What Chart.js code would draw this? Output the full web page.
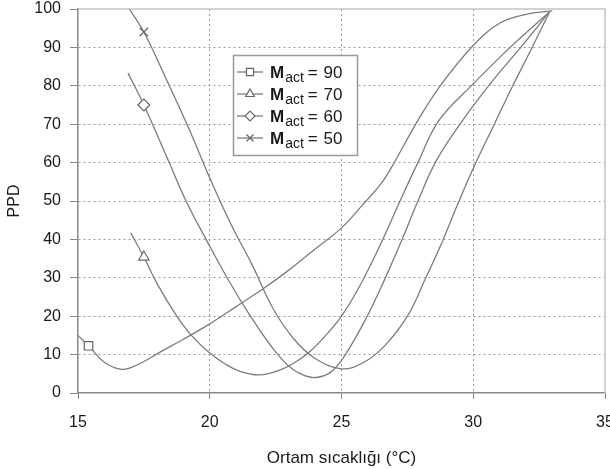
<!DOCTYPE html>
<html>
<head>
<meta charset="utf-8">
<script src="https://cdn.jsdelivr.net/npm/chart.js@4.4.1/dist/chart.umd.min.js"></script>
<style>
  html, body { margin: 0; padding: 0; background: #fff; }
  canvas { display: block; }
</style>
</head>
<body>
<canvas id="chart" width="610" height="469"></canvas>
<script>
// PPD against room temperature for four activity levels (M_act)
const temps90 = [15, 15.4, 16, 16.6, 17, 17.5, 18, 19, 20, 21, 22, 23, 24, 25, 25.8, 26.5, 27, 27.9, 28.8, 30, 31, 32, 33];
const ppd90   = [15, 12.3, 8, 6.2, 6.6, 8.2, 10.2, 14, 18, 22.5, 27, 32, 37.5, 43, 49, 54.5, 60, 71, 80.5, 90.5, 96.3, 98.6, 99.5];

const temps70 = [17, 17.5, 18, 18.75, 19.3, 20, 20.6, 21.2, 21.9, 22.6, 23.2, 23.8, 24.4, 25, 25.7, 26.5, 27.2, 27.9, 28.7, 30, 31.4, 32.9];
const ppd70   = [41.7, 35.4, 28.5, 20, 15, 10.4, 7.5, 5.5, 4.7, 5.8, 7.8, 10.8, 15, 20, 28, 39, 49.7, 60, 71, 80.5, 90, 99.3];

const temps60 = [16.9, 17.5, 18.4, 19.1, 19.9, 20.7, 21.5, 22.3, 23, 23.6, 24.1, 24.6, 25.1, 25.9, 26.6, 27.3, 27.9, 28.6, 29.6, 30.7, 31.8, 32.9];
const ppd60   = [83.3, 75, 61, 50, 39.5, 29.5, 20.5, 12.5, 7, 4.5, 4.1, 5.5, 9.5, 19, 29, 40, 50, 60.5, 71, 81, 90, 99.3];

const temps50 = [16.95, 17.5, 18.4, 19.2, 20, 20.8, 21.6, 22.4, 23.2, 24, 25, 25.8, 26.6, 27.5, 28.2, 28.8, 29.4, 30.1, 30.8, 31.5, 32.2, 32.9];
const ppd50   = [100, 94, 81, 69, 56, 44, 33.5, 22, 14, 9, 6.3, 7.8, 12, 20, 30, 39, 49, 60, 70, 80, 89.5, 99.3];

const mactValues = ['90', '70', '60', '50'];
const markerStyles = ['rect', 'triangle', 'rectRot', 'crossRot'];
const markerIndex = 1; // each curve shows a single marker near its start

const lineColor = '#7c7c7c';
const textColor = '#1a1a1a';
const fontFamily = "'Liberation Sans', Arial, sans-serif";

const toPoints = (xs, ys) => xs.map((x, i) => ({ x, y: ys[i] }));

const series = [
    toPoints(temps90, ppd90),
    toPoints(temps70, ppd70),
    toPoints(temps60, ppd60),
    toPoints(temps50, ppd50)
];

const datasets = series.map((pts, i) => ({
    label: 'M act = ' + mactValues[i],
    data: pts,
    borderColor: lineColor,
    borderWidth: 1.3,
    fill: false,
    tension: 0.4,
    pointStyle: markerStyles[i],
    pointRadius: ctx => ctx.dataIndex === markerIndex ? 6 : 0,
    pointHoverRadius: 0,
    pointBorderColor: '#666',
    pointBackgroundColor: '#fff',
    pointBorderWidth: 1.2
}));

// plot-area frame (top/right light grey) and the boxed legend with subscripts
const frameAndLegend = {
    id: 'frameAndLegend',
    beforeDatasetsDraw(chart) {
        const { ctx, chartArea: a } = chart;
        ctx.save();
        ctx.strokeStyle = '#c4c4c4';
        ctx.lineWidth = 1.5;
        ctx.beginPath();
        ctx.moveTo(a.left, a.top);
        ctx.lineTo(a.right, a.top);
        ctx.lineTo(a.right, a.bottom);
        ctx.stroke();
        ctx.restore();
    },
    afterDraw(chart) {
        const ctx = chart.ctx;
        const bx = 233, by = 55, bw = 124, bh = 100;
        ctx.save();
        ctx.fillStyle = '#fff';
        ctx.fillRect(bx, by, bw, bh);
        ctx.strokeStyle = '#999';
        ctx.lineWidth = 1.5;
        ctx.strokeRect(bx + 0.5, by + 0.5, bw, bh);

        chart.data.datasets.forEach((ds, i) => {
            const y = by + 17 + i * 22;
            ctx.strokeStyle = lineColor;
            ctx.lineWidth = 1.3;
            ctx.beginPath();
            ctx.moveTo(bx + 4, y);
            ctx.lineTo(bx + 30, y);
            ctx.stroke();

            ctx.fillStyle = '#fff';
            ctx.strokeStyle = '#666';
            ctx.lineWidth = 1.2;
            Chart.helpers.drawPoint(ctx, { pointStyle: ds.pointStyle, radius: 5, borderWidth: 1.2, rotation: 0 }, bx + 17, y);

            ctx.fillStyle = textColor;
            ctx.textBaseline = 'alphabetic';
            ctx.textAlign = 'left';
            let x = bx + 37;
            ctx.font = 'bold 17px ' + fontFamily;
            ctx.fillText('M', x, y + 6);
            x += ctx.measureText('M').width + 1;
            ctx.font = '14px ' + fontFamily;
            ctx.fillText('act', x, y + 10);
            x += ctx.measureText('act').width + 4;
            ctx.font = '17px ' + fontFamily;
            ctx.fillText('= ', x, y + 6);
            x += ctx.measureText('= ').width + 1;
            ctx.fillText(mactValues[i], x, y + 6);
        });
        ctx.restore();
    }
};

new Chart(document.getElementById('chart'), {
    type: 'line',
    data: { datasets },
    options: {
        responsive: false,
        animation: false,
        devicePixelRatio: 1,
        layout: { padding: { top: 9, right: 5, left: 0, bottom: 0 } },
        plugins: {
            legend: { display: false },
            tooltip: { enabled: false }
        },
        scales: {
            x: {
                type: 'linear',
                min: 15,
                max: 35,
                ticks: {
                    stepSize: 5,
                    padding: 14,
                    color: textColor,
                    maxRotation: 0,
                    font: { size: 16, family: fontFamily }
                },
                grid: {
                    color: ctx => (ctx.tick && (ctx.tick.value === 15 || ctx.tick.value === 35)) ? 'rgba(0,0,0,0)' : '#9a9a9a',
                    tickColor: '#888',
                    tickLength: 6,
                    lineWidth: 1
                },
                border: { color: '#888', width: 1.5, dash: [2, 3] },
                title: {
                    display: true,
                    text: 'Ortam sıcaklığı (°C)',
                    color: textColor,
                    font: { size: 17, family: fontFamily },
                    padding: { top: 0, bottom: 0 }
                },
                afterFit(scale) {
                    scale.height = 76;
                    scale.paddingLeft = 0;
                    scale.paddingRight = 0;
                }
            },
            y: {
                min: 0,
                max: 100,
                ticks: {
                    stepSize: 10,
                    padding: 9,
                    color: textColor,
                    font: { size: 16, family: fontFamily }
                },
                grid: {
                    color: ctx => (ctx.tick && (ctx.tick.value === 0 || ctx.tick.value === 100)) ? 'rgba(0,0,0,0)' : '#9a9a9a',
                    tickColor: '#888',
                    tickLength: 8,
                    lineWidth: 1
                },
                border: { color: '#888', width: 1.5, dash: [2, 3] },
                title: {
                    display: true,
                    text: 'PPD',
                    color: textColor,
                    font: { size: 16, family: fontFamily },
                    padding: { top: 5, bottom: 0 }
                },
                afterFit(scale) {
                    scale.width = 78;
                    scale.paddingTop = 0;
                    scale.paddingBottom = 0;
                }
            }
        }
    },
    plugins: [frameAndLegend]
});
</script>
</body>
</html>
